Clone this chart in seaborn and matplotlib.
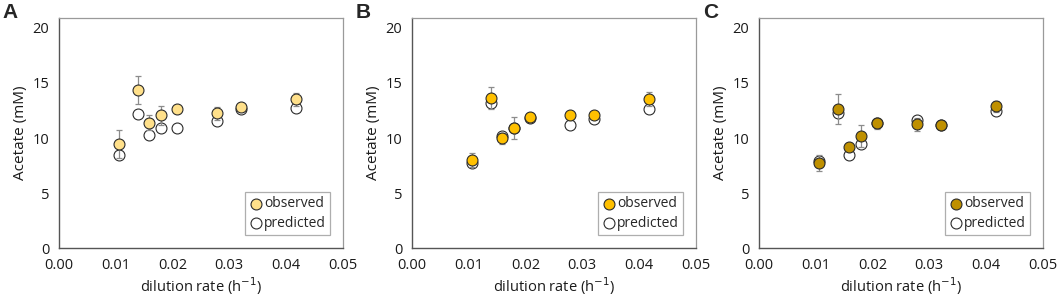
import matplotlib
matplotlib.use("Agg")
import matplotlib.pyplot as plt
import numpy as np
import pandas as pd
import seaborn as sns

# dilution rates (h^-1), shared by all panels
dilution = [0.0105, 0.0140, 0.0158, 0.0180, 0.0208, 0.0278, 0.0321, 0.0417]

# panel A
obs_a = [9.45, 14.35, 11.4, 12.05, 12.6, 12.25, 12.85, 13.5]
err_a = [1.25, 1.3, 0.7, 0.85, 0.1, 0.6, 0.15, 0.6]
pred_a = [8.45, 12.2, 10.3, 10.95, 10.95, 11.55, 12.65, 12.75]

# panel B
obs_b = [8.0, 13.65, 10.0, 10.95, 11.9, 12.1, 12.1, 13.55]
err_b = [0.6, 1.0, 0.5, 1.0, 0.2, 0.1, 0.3, 0.6]
pred_b = [7.7, 13.2, 10.2, 10.95, 11.85, 11.2, 11.7, 12.6]

# panel C
obs_c = [7.75, 12.6, 9.15, 10.15, 11.35, 11.25, 11.2, 12.9]
err_c = [0.7, 1.35, 0.2, 1.0, 0.5, 0.6, 0.1, 0.5]
pred_c = [7.9, 12.3, 8.5, 9.45, 11.4, 11.6, 11.2, 12.45]

panels = [
    ("A", obs_a, err_a, pred_a, "#FFE08A"),
    ("B", obs_b, err_b, pred_b, "#FFC000"),
    ("C", obs_c, err_c, pred_c, "#BF9000"),
]

sns.set_style("white")
plt.rcParams["font.family"] = ["Open Sans", "DejaVu Sans"]

fig = plt.figure(figsize=(10.59, 2.99), dpi=100)
lefts = [0.0557, 0.389, 0.7167]
width = 0.268
bottom, height = 0.170, 0.770

for i, (letter, obs, err, pred, colour) in enumerate(panels):
    ax = fig.add_axes([lefts[i], bottom, width, height])
    df = pd.DataFrame({"x": dilution, "observed": obs, "err": err, "predicted": pred})

    sns.scatterplot(data=df, x="x", y="predicted", ax=ax, s=62, color="white",
                    edgecolor="#2b2b2b", linewidth=0.8, zorder=2, label="predicted")
    ax.errorbar(df["x"], df["observed"], yerr=df["err"], fmt="none", ecolor="#8c8c8c",
                elinewidth=0.9, capsize=2.2, capthick=0.9, zorder=3)
    sns.scatterplot(data=df, x="x", y="observed", ax=ax, s=62, color=colour,
                    edgecolor="#2b2b2b", linewidth=0.8, zorder=4, label="observed")

    ax.set_xlim(0, 0.05)
    ax.set_ylim(0, 20.9)
    ax.set_xticks(np.arange(0, 0.051, 0.01))
    ax.set_xticklabels([f"{v:.2f}" for v in np.arange(0, 0.051, 0.01)])
    ax.set_yticks([0, 5, 10, 15, 20])
    ax.tick_params(axis="both", direction="out", length=4, width=0.9, color="#555555",
                   labelsize=10.5, labelcolor="#1a1a1a", pad=3)
    ax.set_xlabel("dilution rate (h$^{-1}$)", fontsize=10.5, color="#1a1a1a", labelpad=2)
    ax.set_ylabel("Acetate (mM)", fontsize=11, color="#1a1a1a", labelpad=3)

    for side in ["left", "bottom"]:
        ax.spines[side].set_color("#555555")
        ax.spines[side].set_linewidth(1.0)
    for side in ["top", "right"]:
        ax.spines[side].set_color("#9a9a9a")
        ax.spines[side].set_linewidth(0.9)

    handles, labels = ax.get_legend_handles_labels()
    order = [labels.index("observed"), labels.index("predicted")]
    leg = ax.legend([handles[k] for k in order], [labels[k] for k in order],
                    loc="lower right", bbox_to_anchor=(0.97, 0.04), fontsize=10,
                    frameon=True, fancybox=False, edgecolor="#9a9a9a",
                    handletextpad=0.05, handlelength=1.0, borderpad=0.3,
                    labelspacing=0.3, borderaxespad=0.3)
    leg.get_frame().set_linewidth(0.9)

    fig.text(lefts[i] - 0.053, 0.99, letter, fontsize=15, fontweight="bold",
             family="Liberation Sans", va="top", ha="left")

fig.savefig("out.png", dpi=100)
